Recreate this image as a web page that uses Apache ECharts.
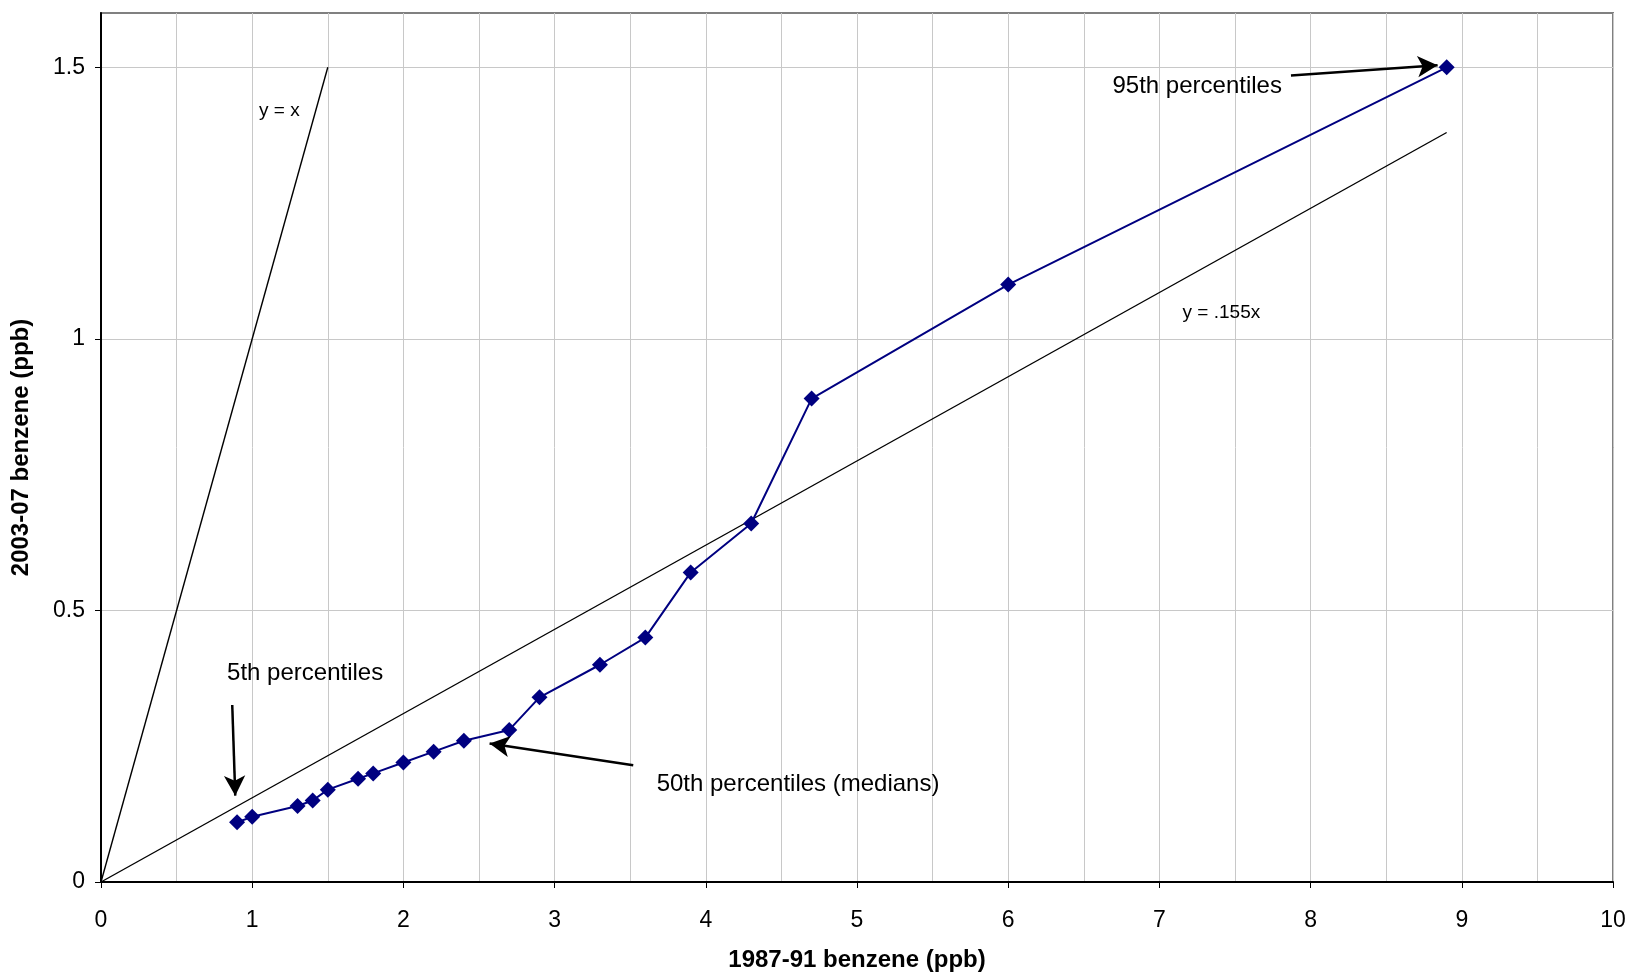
<!DOCTYPE html>
<html>
<head>
<meta charset="utf-8">
<title>Benzene percentiles</title>
<script src="https://cdn.jsdelivr.net/npm/echarts@6/dist/echarts.min.js"></script>
<style>
  html, body { margin: 0; padding: 0; background: #fff; }
  #chart { width: 1633px; height: 977px; }
</style>
</head>
<body>
<div id="chart"></div>
<script>
// percentiles, 1987-91 vs 2003-07 (ppb)
var xOld = [0.9, 1.0, 1.3, 1.4, 1.5, 1.7, 1.8, 2.0, 2.2, 2.4, 2.7, 2.9, 3.3, 3.6, 3.9, 4.3, 4.7, 6.0, 8.9];
var yNew = [0.11, 0.12, 0.14, 0.15, 0.17, 0.19, 0.20, 0.22, 0.24, 0.26, 0.28, 0.34, 0.40, 0.45, 0.57, 0.66, 0.89, 1.10, 1.50];

// reference lines
var lineYX = [[0, 0], [1.5, 1.5]];
var line155 = [[0, 0], [8.9, 1.38]];

// annotation texts [x, y, text, size]
var notes = [
    [1.18, 1.42, 'y = x', 19],
    [7.41, 1.048, 'y = .155x', 19],
    [7.25, 1.464, '95th percentiles', 24],
    [1.35, 0.384, '5th percentiles', 24],
    [4.61, 0.18, '50th percentiles (medians)', 24]
];

// arrows [from, to]
var arrows = [
    [[7.87, 1.485], [8.84, 1.504]],
    [[0.868, 0.326], [0.888, 0.159]],
    [[3.52, 0.215], [2.57, 0.255]]
];

var yTicks = [0, 0.5, 1, 1.5];

var pts = [];
for (var i = 0; i < xOld.length; i++) {
    pts.push([xOld[i], yNew[i]]);
}

var myChart = echarts.init(document.getElementById('chart'));
var font = 'Liberation Sans, Arial, sans-serif';

var option = {
    animation: false,
    textStyle: { fontFamily: font },
    grid: {
        left: 101, right: 20, top: 13, bottom: 94,
        show: true, borderColor: '#808080', borderWidth: 2
    },
    xAxis: {
        type: 'value',
        min: 0, max: 10, interval: 1,
        name: '1987-91 benzene (ppb)',
        nameLocation: 'middle',
        nameGap: 66,
        nameTextStyle: { fontSize: 24, fontWeight: 'bold', color: '#000', fontFamily: font },
        axisLine: { lineStyle: { color: '#000', width: 2 } },
        axisTick: { show: true, length: 6, lineStyle: { color: '#000' } },
        axisLabel: { fontSize: 23, color: '#000', margin: 27, fontFamily: font },
        splitLine: { show: true, lineStyle: { color: '#c8c8c8', width: 1 } },
        minorTick: { show: false, splitNumber: 2 },
        minorSplitLine: { show: true, lineStyle: { color: '#c8c8c8', width: 1 } }
    },
    yAxis: {
        type: 'value',
        min: 0, max: 1.6, interval: 0.5,
        name: '2003-07 benzene (ppb)',
        nameLocation: 'middle',
        nameGap: 68,
        nameTextStyle: { fontSize: 24, fontWeight: 'bold', color: '#000', fontFamily: font },
        axisLine: { lineStyle: { color: '#000', width: 2 } },
        axisTick: { show: true, length: 6, lineStyle: { color: '#000' }, customValues: yTicks },
        axisLabel: { fontSize: 23, color: '#000', margin: 16, fontFamily: font, customValues: yTicks },
        splitLine: { show: true, lineStyle: { color: '#c8c8c8', width: 1 } }
    },
    series: [
        {
            name: 'y = x',
            type: 'line',
            data: lineYX,
            symbol: 'none',
            lineStyle: { color: '#000', width: 1.4 },
            z: 3
        },
        {
            name: 'y = .155x',
            type: 'line',
            data: line155,
            symbol: 'none',
            lineStyle: { color: '#000', width: 1.4 },
            z: 3
        },
        {
            name: 'percentiles',
            type: 'line',
            data: pts,
            symbol: 'diamond',
            symbolSize: 16,
            itemStyle: { color: '#000080' },
            lineStyle: { color: '#000080', width: 2 },
            z: 4
        },
        {
            name: 'arrows',
            type: 'line',
            data: [],
            markLine: {
                silent: true,
                symbol: ['none', 'arrow'],
                symbolSize: [16, 20],
                label: { show: false },
                lineStyle: { color: '#000', width: 2.5, type: 'solid' },
                data: arrows.map(function (a) {
                    return [{ coord: a[0] }, { coord: a[1] }];
                })
            },
            z: 5
        },
        {
            name: 'notes',
            type: 'scatter',
            symbolSize: 0,
            silent: true,
            data: notes.map(function (n) {
                return {
                    value: [n[0], n[1]],
                    label: {
                        show: true,
                        position: 'inside',
                        formatter: n[2],
                        fontSize: n[3],
                        color: '#000',
                        opacity: 1,
                        fontFamily: font
                    }
                };
            }),
            z: 6
        }
    ]
};

myChart.setOption(option);
</script>
</body>
</html>
